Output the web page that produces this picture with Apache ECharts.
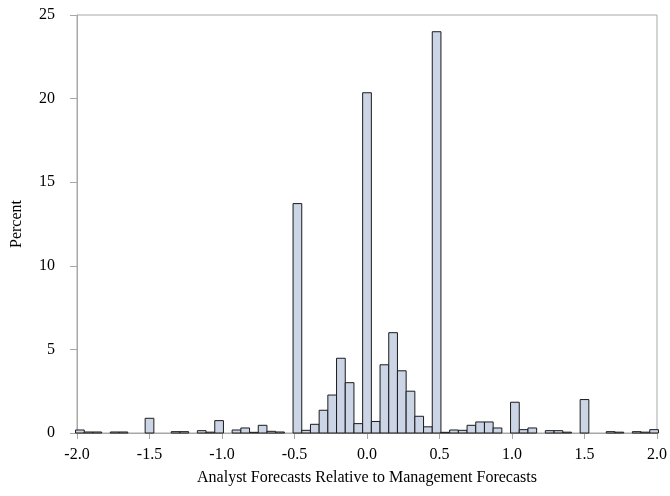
<!DOCTYPE html>
<html>
<head>
<meta charset="utf-8">
<script src="https://cdn.jsdelivr.net/npm/echarts@6/dist/echarts.min.js"></script>
<style>html,body{margin:0;padding:0;background:#fff}#c{width:670px;height:496px}</style>
</head>
<body>
<div id="c"></div>
<script>
// Bin midpoints (bin width 0.06)
const binCenters = [-1.98,-1.92,-1.86,-1.80,-1.74,-1.68,-1.62,-1.56,-1.50,-1.44,-1.38,-1.32,-1.26,-1.20,-1.14,-1.08,-1.02,-0.96,-0.90,-0.84,-0.78,-0.72,-0.66,-0.60,-0.54,-0.48,-0.42,-0.36,-0.30,-0.24,-0.18,-0.12,-0.06,0.00,0.06,0.12,0.18,0.24,0.30,0.36,0.42,0.48,0.54,0.60,0.66,0.72,0.78,0.84,0.90,0.96,1.02,1.08,1.14,1.20,1.26,1.32,1.38,1.44,1.50,1.56,1.62,1.68,1.74,1.80,1.86,1.92,1.98];
const binWidth = 0.06;
// Percent per bin
const percentValues = [0.18,0.06,0.06,0,0.06,0.06,0,0,0.88,0,0,0.08,0.08,0,0.14,0.05,0.74,0,0.18,0.30,0.04,0.46,0.10,0.06,0,13.72,0.16,0.52,1.36,2.27,4.47,3.01,0.56,20.35,0.69,4.08,6.00,3.72,2.50,1.00,0.37,24.00,0.04,0.18,0.16,0.46,0.66,0.66,0.30,0,1.84,0.20,0.30,0,0.14,0.14,0.05,0,2.00,0,0,0.08,0.05,0,0.08,0.05,0.20];
const xTicks = [-2.0,-1.5,-1.0,-0.5,0.0,0.5,1.0,1.5,2.0];
const yTicks = [0,5,10,15,20,25];
const xTitle = 'Analyst Forecasts Relative to Management Forecasts';
const yTitle = 'Percent';

const data = binCenters.map((c, i) => [c, percentValues[i]]);
const font = '"Liberation Serif","Times New Roman",serif';
const chart = echarts.init(document.getElementById('c'), null, {renderer: 'canvas'});
chart.setOption({
  animation: false,
  backgroundColor: '#fff',
  grid: {left: 77, right: 12, top: 15, bottom: 63, show: true, borderColor: '#a8a8a8', borderWidth: 1, backgroundColor: 'transparent'},
  xAxis: {
    type: 'value', min: xTicks[0], max: xTicks[xTicks.length-1], interval: 0.5,
    name: xTitle, nameLocation: 'middle', nameGap: 37,
    nameTextStyle: {fontFamily: font, fontSize: 16, color: '#000'},
    axisLine: {show: true, onZero: false, lineStyle: {color: '#a8a8a8', width: 1}},
    axisTick: {show: true, length: 6, lineStyle: {color: '#a8a8a8'}},
    axisLabel: {fontFamily: font, fontSize: 16, color: '#000', margin: 14, formatter: v => v.toFixed(1)},
    splitLine: {show: false}
  },
  yAxis: {
    type: 'value', min: yTicks[0], max: yTicks[yTicks.length-1], interval: 5,
    name: yTitle, nameLocation: 'middle', nameGap: 52, nameRotate: 90,
    nameTextStyle: {fontFamily: font, fontSize: 16, color: '#000'},
    axisLine: {show: true, onZero: false, lineStyle: {color: '#a8a8a8', width: 1}},
    axisTick: {show: true, length: 7, lineStyle: {color: '#a8a8a8'}},
    axisLabel: {fontFamily: font, fontSize: 16, color: '#000', margin: 22},
    splitLine: {show: false}
  },
  series: [{
    type: 'custom',
    data: data,
    encode: {x: 0, y: 1},
    renderItem: function (params, api) {
      const c = api.value(0), v = api.value(1);
      if (!v) return null;
      const p0 = api.coord([c - binWidth / 2, v]);
      const p1 = api.coord([c + binWidth / 2, 0]);
      return {
        type: 'rect',
        shape: {x: p0[0], y: p0[1], width: p1[0] - p0[0], height: p1[1] - p0[1]},
        style: {fill: '#cbd5e6', stroke: '#1a1a1a', lineWidth: 1}
      };
    }
  }]
});
</script>
</body>
</html>
